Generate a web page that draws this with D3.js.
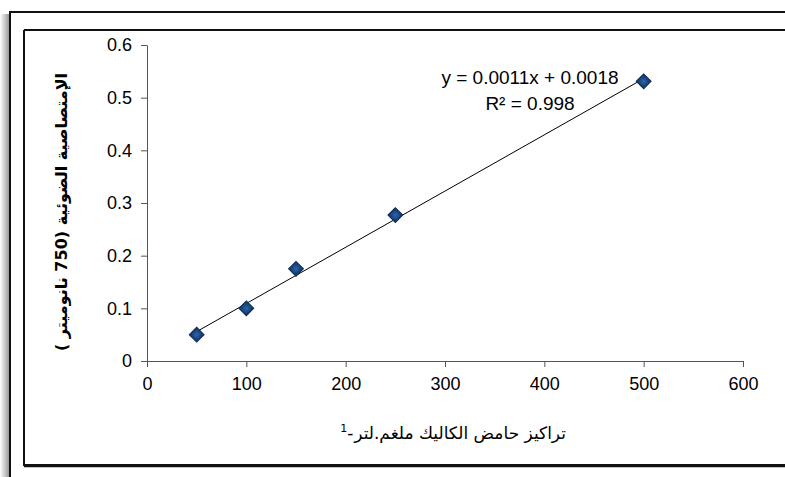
<!DOCTYPE html>
<html>
<head>
<meta charset="utf-8">
<script src="https://cdn.jsdelivr.net/npm/d3@7/dist/d3.min.js"></script>
<style>
  body { margin: 0; background: #fff; }
  svg { display: block; }
  .tick text { font-family: "Liberation Sans Narrow", "Liberation Sans", sans-serif; font-size: 18px; fill: #000; }
</style>
</head>
<body>
<svg width="785" height="477"></svg>
<script>
// data
const concentrations = [50, 100, 150, 250, 500];
const absorbance = [0.05, 0.1, 0.175, 0.277, 0.531];
const xTicks = [0, 100, 200, 300, 400, 500, 600];
const yTicks = [0, 0.1, 0.2, 0.3, 0.4, 0.5, 0.6];
const equationLines = ["y = 0.0011x + 0.0018", "R² = 0.998"];

const svg = d3.select("svg");

// shadow on the left of the outer frame
const grad = svg.append("defs").append("linearGradient").attr("id", "shade");
grad.append("stop").attr("offset", "0%").attr("stop-color", "#fff");
grad.append("stop").attr("offset", "100%").attr("stop-color", "#999");
svg.append("rect").attr("x", 0).attr("y", 14).attr("width", 9).attr("height", 463)
  .attr("fill", "url(#shade)");

// outer + inner frames
svg.append("path").attr("d", "M10,477V12H785").attr("fill", "none")
  .attr("stroke", "#111").attr("stroke-width", 2);
svg.append("path").attr("d", "M24,30V465H785M24,30H785").attr("fill", "none")
  .attr("stroke", "#111").attr("stroke-width", 2);
svg.append("line").attr("x1", 24).attr("x2", 785).attr("y1", 466.5).attr("y2", 466.5)
  .attr("stroke", "#111").attr("stroke-width", 1.5);

const x = d3.scaleLinear().domain([0, 600]).range([147, 743]);
const y = d3.scaleLinear().domain([0, 0.6]).range([361, 45]);

svg.append("g").attr("transform", "translate(0,361)")
  .call(d3.axisBottom(x).tickValues(xTicks).tickSize(6).tickPadding(10).tickSizeOuter(0))
  .call(g => g.select(".domain").attr("stroke", "#555"))
  .call(g => g.selectAll(".tick line").attr("stroke", "#555"));

svg.append("g").attr("transform", "translate(147,0)")
  .call(d3.axisLeft(y).tickValues(yTicks).tickSize(6).tickPadding(9).tickSizeOuter(0)
    .tickFormat(d => d === 0 ? "0" : d3.format(".1f")(d)))
  .call(g => g.select(".domain").attr("stroke", "#555"))
  .call(g => g.selectAll(".tick line").attr("stroke", "#555"));

// least squares trend line through the points
const mx = d3.mean(concentrations), my = d3.mean(absorbance);
const sxy = d3.sum(concentrations, (c, i) => (c - mx) * (absorbance[i] - my));
const sxx = d3.sum(concentrations, c => (c - mx) ** 2);
const slope = sxy / sxx, intercept = my - slope * mx;
const [x0, x1] = d3.extent(concentrations);
svg.append("line")
  .attr("x1", x(x0)).attr("y1", y(slope * x0 + intercept))
  .attr("x2", x(x1)).attr("y2", y(slope * x1 + intercept))
  .attr("stroke", "#000").attr("stroke-width", 1);

// diamond markers
const mg = svg.append("defs").append("radialGradient").attr("id", "mk");
mg.append("stop").attr("offset", "0%").attr("stop-color", "#2f64a8");
mg.append("stop").attr("offset", "100%").attr("stop-color", "#143d73");
svg.selectAll(".pt").data(concentrations).join("path").attr("class", "pt")
  .attr("d", d3.symbol(d3.symbolSquare, 110))
  .attr("transform", (d, i) => `translate(${x(d)},${y(absorbance[i])}) rotate(45)`)
  .attr("fill", "url(#mk)").attr("stroke", "#0e2a52").attr("stroke-width", 1);

// equation
svg.selectAll(".eq").data(equationLines).join("text").attr("class", "eq")
  .attr("x", 530).attr("y", (d, i) => 84 + i * 26)
  .attr("text-anchor", "middle")
  .attr("font-family", "Liberation Sans Narrow, Liberation Sans, sans-serif")
  .attr("font-size", 19).text(d => d);

// y axis title
svg.append("text")
  .attr("transform", "translate(67,212) rotate(-90)")
  .attr("text-anchor", "middle")
  .attr("font-family", "DejaVu Sans, sans-serif").attr("font-weight", "bold")
  .attr("font-size", 16)
  .text("الإمتصاصية الضوئية (750 نانوميتر )");

// x axis title
const xt = svg.append("text")
  .attr("x", 566).attr("y", 439)
  .attr("text-anchor", "end")
  .attr("font-family", "DejaVu Sans, sans-serif")
  .attr("font-size", 17)
  .text("تراكيز حامض الكاليك ملغم.لتر");
const w = xt.node().getComputedTextLength();
svg.append("text")
  .attr("x", 566 - w - 1).attr("y", 439)
  .attr("text-anchor", "end")
  .attr("font-family", "DejaVu Sans, sans-serif")
  .attr("font-size", 17)
  .text("-");
svg.append("text")
  .attr("x", 566 - w - 7).attr("y", 432)
  .attr("text-anchor", "end")
  .attr("font-family", "DejaVu Sans, sans-serif")
  .attr("font-size", 11)
  .text("1");
</script>
</body>
</html>
